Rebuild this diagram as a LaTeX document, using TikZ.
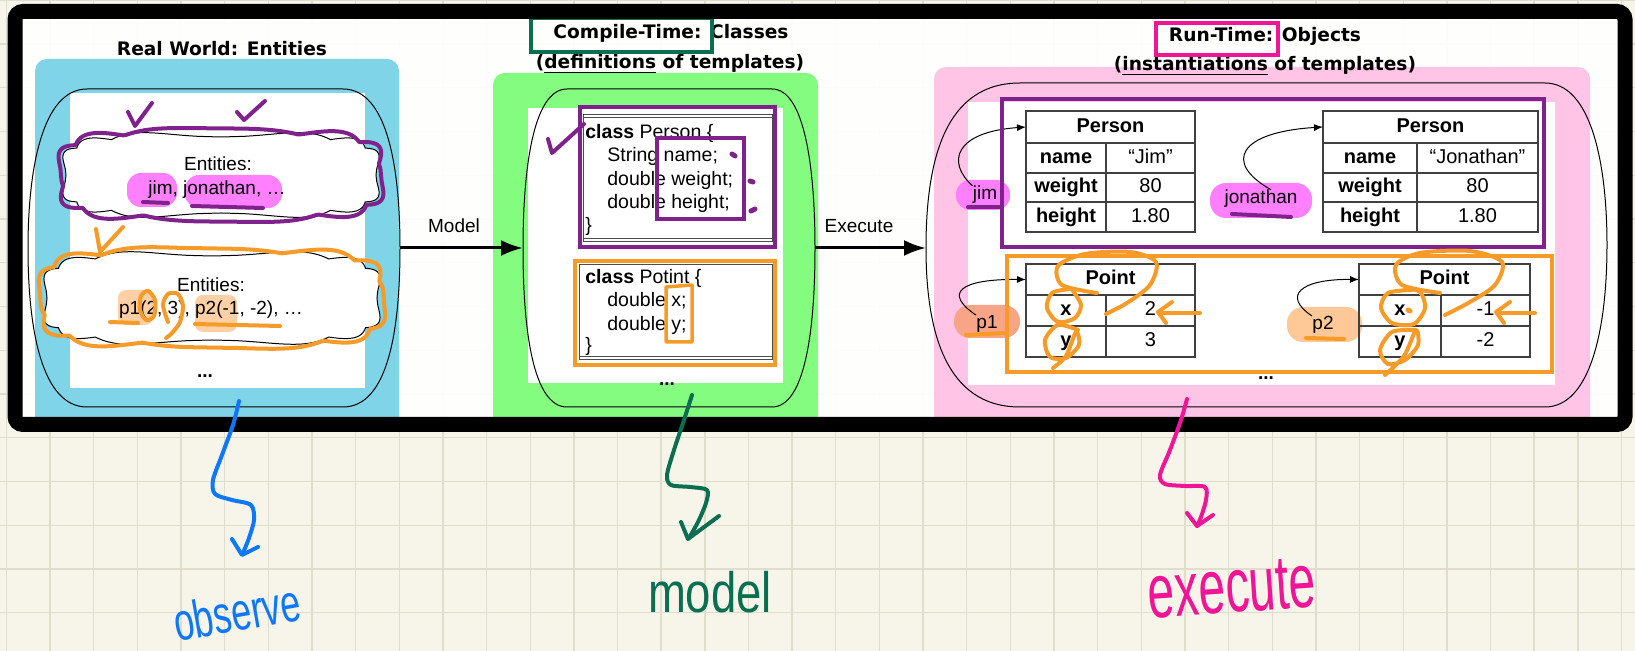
\documentclass[tikz,border=0pt]{standalone}
\usepackage{fontspec}
\setmainfont{Liberation Sans}
\newfontfamily\titlefont{DejaVu Sans}
\usetikzlibrary{arrows.meta}
\definecolor{cream}{RGB}{247,245,233}
\definecolor{gridc}{RGB}{224,221,205}
\definecolor{pblue}{RGB}{128,212,232}
\definecolor{pgreen}{RGB}{132,252,128}
\definecolor{ppink}{RGB}{255,196,230}
\definecolor{annpurple}{RGB}{128,34,140}
\definecolor{annorange}{RGB}{247,155,40}
\definecolor{hlmag}{RGB}{255,128,255}
\definecolor{hlorange}{RGB}{255,200,150}
\definecolor{hlsalmon}{RGB}{248,165,135}
\definecolor{hwteal}{RGB}{10,110,80}
\definecolor{hwpink}{RGB}{240,20,150}
\definecolor{hwblue}{RGB}{15,120,250}
\tikzset{
  body/.style={font=\fontsize{9.5}{11}\selectfont, inner sep=0pt},
  codetxt/.style={font=\fontsize{9.75}{11}\selectfont, inner sep=0pt, anchor=base west},
  ttl/.style={font=\titlefont\bfseries\fontsize{9.3}{11}\selectfont, inner sep=0pt, anchor=base},
  tcell/.style={draw=black!75, line width=0.6pt, inner sep=0pt, outer sep=0pt,
    text height=7.3pt, text depth=2pt, font=\fontsize{10}{12}\selectfont},
  outline/.style={draw=black, line width=0.5pt},
  hpen/.style={line width=2pt, line cap=round, line join=round},
  bigarrow/.style={line width=1.5pt, -{Latex[length=11pt,width=8pt]}},
  ptr/.style={line width=0.5pt, -{Latex[length=4.5pt,width=3.5pt]}},
  hwtext/.style={inner sep=0pt},
  dots/.style={font=\bfseries\fontsize{9.5}{11}\selectfont, inner sep=0pt}
}
\newcommand{\mkcell}[6]{%
  \pgfmathsetmacro\mycw{(#3-#2)*0.5}%
  \pgfmathsetmacro\mych{(#5-#4)*0.5}%
  \node[tcell, minimum width=\mycw pt, minimum height=\mych pt] (#1) at ({(#2+#3)/2},{(#4+#5)/2}) {#6};}
% cloud outline: cx, cy, a, b, puffs k, phase, puff size
\newcommand{\cloudplot}[7]{plot[domain=0:360, samples=289, variable=\t]
  ({#1+(#3+#7*abs(sin(#5*\t+#6)))*cos(\t)/sqrt(abs(cos(\t))+0.0001)},
   {#2+(#4+#7*abs(sin(#5*\t+#6)))*sin(\t)/sqrt(abs(sin(\t))+0.0001)}) -- cycle}
\begin{document}
\begin{tikzpicture}[x=0.5pt, y=-0.5pt]
\useasboundingbox (0,0) rectangle (1635,651);
% background paper
\fill[cream] (0,0) rectangle (1635,651);
\foreach \k in {0,...,37} \draw[gridc, line width=0.7pt] ({6.4+\k*43.65},0) -- ({6.4+\k*43.65},651);
\foreach \k in {0,...,14} \draw[gridc, line width=0.7pt] (0,{0.3+\k*43.75}) -- (1635,{0.3+\k*43.75});
\fill[white, opacity=0.93] (15,11.5) rectangle (1625,424.5);

% panels
\fill[pblue, rounded corners=6pt] (35,59) rectangle (399,432);
\fill[pgreen, rounded corners=6pt] (493,73) rectangle (818,432);
\fill[ppink, rounded corners=6pt] (934,67) rectangle (1590,432);
\fill[white] (70,93) rectangle (365,388);
\fill[white] (528,108) rectangle (783,383);
\fill[white] (968,102) rectangle (1555,385);

% outlines
\draw[outline] (87,89) -- (343,89) .. controls (388,89) and (400,170) .. (400,248)
  .. controls (400,330) and (388,407) .. (343,407) -- (87,407)
  .. controls (42,407) and (28,330) .. (28,248) .. controls (28,170) and (42,89) .. (87,89) -- cycle;
\draw[outline] (567,89) -- (772,89) .. controls (805,89) and (815,170) .. (815,248)
  .. controls (815,330) and (805,407) .. (772,407) -- (567,407)
  .. controls (533,407) and (523,330) .. (523,248) .. controls (523,170) and (533,89) .. (567,89) -- cycle;
\draw[outline] (1020,83) -- (1545,83) .. controls (1590,83) and (1607,160) .. (1607,245)
  .. controls (1607,330) and (1590,407) .. (1545,407) -- (1020,407)
  .. controls (945,407) and (926,330) .. (926,248) .. controls (926,160) and (945,83) .. (1020,83) -- cycle;
\coordinate (Lr) at (400,248);
\coordinate (Ml) at (523,248);
\coordinate (Mr) at (815,248);
\coordinate (Rl) at (926,248);

% titles
\node[ttl] (tReal) at (222,56) {Real World: Entities};
\node[ttl] (tCT1) at (671,39) {Compile-Time: Classes};
\node[ttl] (tCT2) at (670,69) {(\underline{definitions} of templates)};
\node[ttl] (tRT1) at (1265,42) {Run-Time: Objects};
\node[ttl] (tRT2) at (1265,71) {(\underline{instantiations} of templates)};
\draw[hwteal, line width=1.75pt] (531,18) rectangle (712,52);
\draw[hwpink, line width=1.75pt] (1156,23) rectangle (1278,55);

% ---------- left panel ----------
\draw[outline, fill=white] \cloudplot{221}{175}{155}{38}{6}{0}{5};
\draw[outline, fill=white] \cloudplot{212}{298}{165}{42}{6}{0}{5};
\draw[annpurple, hpen] \cloudplot{221}{175}{158}{41}{5}{20}{6};
\draw[annorange, hpen] \cloudplot{212}{298}{168}{45}{5}{40}{6};
\fill[hlmag, rounded corners=7pt] (127,173) rectangle (177,207);
\fill[hlmag, rounded corners=7pt] (185,175) rectangle (282,208);
\fill[hlorange, opacity=0.85, rounded corners=4pt] (118,290) rectangle (153,325);
\fill[hlorange, opacity=0.85, rounded corners=4pt] (195,295) rectangle (237,332);
\node[body, anchor=base] (e1a) at (218,171) {Entities:};
\node[body, anchor=base] (e1b) at (217,195) {jim, jonathan, …};
\node[body, anchor=base] (e2a) at (211,292) {Entities:};
\node[body, anchor=base] (e2b) at (211,315) {p1(2, 3), p2(-1, -2), …};
\node[dots] (dotsL) at (205,376) {...};
\draw[annpurple, hpen] (128,112) -- (135,126) -- (152,103);
\draw[annpurple, hpen] (237,112) -- (244,120) -- (265,101);
\draw[annorange, hpen] (96,229) -- (100,252) -- (123,227);
\draw[annpurple, hpen] (143,202) -- (168,203);
\draw[annpurple, hpen] (192,206) -- (263,208);
\draw[annorange, hpen] (110,322) -- (138,323);
\draw[annorange, hpen] (195,324) -- (280,326);
\draw[annorange, hpen] plot[smooth cycle] coordinates {(148,291) (155,300) (154,316) (146,320) (140,310) (141,296)};
\draw[annorange, hpen] plot[smooth] coordinates {(168,322) (163,305) (168,294) (178,294) (183,306) (180,322) (172,333) (166,338)};

% ---------- middle panel ----------
\node[draw=black!70, line width=0.5pt, minimum width=94.5pt, minimum height=63.5pt, inner sep=0pt, outer sep=0pt] (pbox) at (677.5,178.5) {};
\draw[black!70, line width=0.5pt] ([yshift=-1.5pt]pbox.north west) -- ([yshift=-1.5pt]pbox.north east);
\draw[black!70, line width=0.5pt] ([yshift=1.5pt]pbox.south west) -- ([yshift=1.5pt]pbox.south east);
\node[draw=black!70, line width=0.5pt, minimum width=96.5pt, minimum height=47.5pt, inner sep=0pt, outer sep=0pt] (qbox) at (675.5,312.5) {};
\draw[black!70, line width=0.5pt] ([yshift=1.5pt]qbox.south west) -- ([yshift=1.5pt]qbox.south east);
\node[codetxt] (c1) at (585,138.5) {\textbf{class} Person \{};
\node[codetxt] (c2) at (607,162) {String name;};
\node[codetxt] (c3) at (607,185.5) {double weight;};
\node[codetxt] (c4) at (607,209) {double height;};
\node[codetxt] (c5) at (585,232) {\}};
\node[codetxt] (d1) at (585,283.5) {\textbf{class} Potint \{};
\node[codetxt] (d2) at (607,307) {double x;};
\node[codetxt] (d3) at (607,330.5) {double y;};
\node[codetxt] (d4) at (585,352) {\}};
\node[dots] (dotsM) at (667,384) {...};
\draw[annpurple, line width=1.75pt] (580,107) rectangle (775,247);
\draw[annpurple, line width=1.75pt] (657,138) rectangle (744,219);
\draw[annpurple, line width=2.5pt, line cap=round] (732,154) -- (735,156);
\draw[annpurple, line width=2.5pt, line cap=round] (750,181) -- (753,182);
\draw[annpurple, line width=2.5pt, line cap=round] (751,211) -- (755,209);
\draw[annpurple, hpen] (548,139) -- (552,153) -- (584,124);
\draw[annorange, line width=1.75pt] (575,261) rectangle (775,365);
\draw[annorange, line width=1.75pt, line join=round] (666,287) -- (692,285) -- (692,342) -- (666,342) -- cycle;

% ---------- right panel ----------
\fill[hlmag, rounded corners=7pt] (956,180) rectangle (1010,210);
\fill[hlmag, rounded corners=8pt] (1210,183) rectangle (1312,218);
\fill[hlsalmon, rounded corners=8pt] (954,305) rectangle (1020,338);
\fill[hlorange, rounded corners=8pt] (1287,307) rectangle (1362,342);
\node[body] (ljim) at (985,195) {jim};
\node[body] (ljon) at (1261,199) {jonathan};
\node[body] (lp1) at (987,324) {p1};
\node[body] (lp2) at (1323,325) {p2};

\mkcell{ta}{1026}{1195}{111}{143}{\textbf{Person}}
\mkcell{tak1}{1026}{1106}{143}{173}{\textbf{name}}
\mkcell{tav1}{1106}{1195}{143}{173}{“Jim”}
\mkcell{tak2}{1026}{1106}{173}{202}{\textbf{weight}}
\mkcell{tav2}{1106}{1195}{173}{202}{80}
\mkcell{tak3}{1026}{1106}{202}{232}{\textbf{height}}
\mkcell{tav3}{1106}{1195}{202}{232}{1.80}

\mkcell{tb}{1323}{1538}{111}{143}{\textbf{Person}}
\mkcell{tbk1}{1323}{1417}{143}{173}{\textbf{name}}
\mkcell{tbv1}{1417}{1538}{143}{173}{“Jonathan”}
\mkcell{tbk2}{1323}{1417}{173}{202}{\textbf{weight}}
\mkcell{tbv2}{1417}{1538}{173}{202}{80}
\mkcell{tbk3}{1323}{1417}{202}{232}{\textbf{height}}
\mkcell{tbv3}{1417}{1538}{202}{232}{1.80}

\mkcell{tc}{1026}{1195}{264}{295}{\textbf{Point}}
\mkcell{tck1}{1026}{1106}{295}{326}{\textbf{x}}
\mkcell{tcv1}{1106}{1195}{295}{326}{2}
\mkcell{tck2}{1026}{1106}{326}{357}{\textbf{y}}
\mkcell{tcv2}{1106}{1195}{326}{357}{3}

\mkcell{td}{1359}{1530}{264}{295}{\textbf{Point}}
\mkcell{tdk1}{1359}{1441}{295}{326}{\textbf{x}}
\mkcell{tdv1}{1441}{1530}{295}{326}{-1}
\mkcell{tdk2}{1359}{1441}{326}{357}{\textbf{y}}
\mkcell{tdv2}{1441}{1530}{326}{357}{-2}

\draw[ptr] (ljim.north west) .. controls (946,162) and (955,132) .. (ta.west);
\draw[ptr] ([xshift=5pt]ljon.north) .. controls (1222,162) and (1240,132) .. (tb.west);
\draw[ptr] (lp1.north west) .. controls (943,293) and (960,279) .. (tc.west);
\draw[ptr] (lp2.north west) .. controls (1282,296) and (1300,279) .. (td.west);

\node[dots] (dotsR) at (1266,378) {...};

\draw[annpurple, line width=2pt] (1002,99) rectangle (1544,247);
\draw[annorange, line width=2pt] (1007,256) rectangle (1552,372);
\draw[annpurple, hpen] (968,207) -- (1001,207);
\draw[annpurple, hpen] (1232,214) -- (1291,217);
\draw[annorange, hpen] (966,335) -- (1006,333);
\draw[annorange, hpen] (1306,338) -- (1344,339);

% orange loops, table C
\draw[annorange, hpen] plot[smooth] coordinates {(1097,293) (1062,285) (1058,266) (1085,254) (1130,252) (1156,262) (1150,285) (1127,303) (1106,314)};
\draw[annorange, hpen] plot[smooth] coordinates {(1070,289) (1052,293) (1047,308) (1058,322) (1075,318) (1081,305) (1073,291)};
\draw[annorange, hpen] plot[smooth] coordinates {(1078,330) (1058,325) (1045,340) (1050,357) (1066,358) (1079,345) (1076,332) (1066,356) (1053,368)};
\draw[annorange, hpen] (1200,313) -- (1159,313);
\draw[annorange, hpen] (1172,302) -- (1158,312) -- (1166,323);
% orange loops, table D
\draw[annorange, hpen] plot[smooth] coordinates {(1440,293) (1402,285) (1396,265) (1420,253) (1470,251) (1502,262) (1495,285) (1470,302) (1445,315)};
\draw[annorange, hpen] plot[smooth] coordinates {(1412,290) (1388,293) (1381,308) (1392,323) (1414,324) (1425,308) (1420,292) (1405,288)};
\draw[annorange, hpen] plot[smooth] coordinates {(1415,330) (1392,332) (1380,350) (1388,364) (1405,360) (1418,345) (1416,330) (1404,356) (1385,375)};
\draw[annorange, line width=2.5pt, line cap=round] (1408,310) -- (1410,311);
\draw[annorange, hpen] (1535,313) -- (1497,313);
\draw[annorange, hpen] (1510,302) -- (1496,312) -- (1504,323);

% model / execute arrows
\draw[bigarrow] (Lr) -- (Ml);
\draw[bigarrow] (Mr) -- (Rl);
\node[body] (lModel) at (454,226) {Model};
\node[body] (lExec) at (859,226) {Execute};

% frame
\draw[line width=7.5pt, rounded corners=4pt] (15,11.5) rectangle (1625,424.5);

% handwriting below
\coordinate (sB) at (239,401);
\coordinate (sG) at (692,395);
\coordinate (sP) at (1187,399);
\draw[hwblue, hpen] plot[smooth] coordinates {(sB) (233,425) (222,455) (213,480) (215,494) (232,500) (251,505) (254,520) (249,538) (243,553)};
\draw[hwblue, hpen] (232,539) -- (242,555) -- (258,547);
\node[hwtext, text=hwblue, rotate=10, font=\fontsize{19}{22}\selectfont] (wObs) at (237,612) {\scalebox{0.95}[1.4]{observe}};

\draw[hwteal, hpen] plot[smooth] coordinates {(sG) (684,420) (674,450) (667,475) (671,485) (690,487) (707,490) (706,503) (698,522) (689,538)};
\draw[hwteal, hpen] (681,522) -- (688,539) -- (719,516);
\node[hwtext, text=hwteal, font=\fontsize{22.75}{26}\selectfont] (wMod) at (710,592) {\scalebox{1}[1.25]{model}};

\draw[hwpink, hpen] plot[smooth] coordinates {(sP) (1181,420) (1170,450) (1160,475) (1165,484) (1185,486) (1205,487) (1206,500) (1201,517) (1197,526)};
\draw[hwpink, hpen] (1187,513) -- (1197,526) -- (1213,515);
\node[hwtext, text=hwpink, rotate=4, font=\fontsize{24}{28}\selectfont] (wExe) at (1232,588) {\scalebox{1}[1.6]{execute}};
\end{tikzpicture}
\end{document}
